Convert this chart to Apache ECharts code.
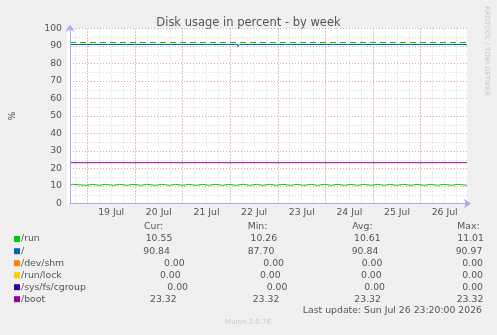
<!DOCTYPE html>
<html><head><meta charset="utf-8">
<script src="https://cdn.jsdelivr.net/npm/echarts@6/dist/echarts.min.js"></script>
<style>html,body{margin:0;padding:0;background:#f0f0f0}#c{width:497px;height:335px}</style>
</head><body><div id="c"></div>
<script>
// ---------------- data ----------------
const titleText = 'Disk usage in percent - by week';
const yAxisName = '%';
const startTime = new Date(2026, 6, 18, 15, 20).getTime();
const endTime = new Date(2026, 6, 26, 23, 20).getTime();
const monthNames = ['Jan','Feb','Mar','Apr','May','Jun','Jul','Aug','Sep','Oct','Nov','Dec'];
const seriesNames = ['/run', '/', '/dev/shm', '/run/lock', '/sys/fs/cgroup', '/boot'];
const seriesColors = ['#00cc00', '#0066b3', '#ff8000', '#ffcc00', '#330099', '#990099'];
// hours after start where /run changes value, and the value held from there
const runHours = [0,1.5,8.2,11.5,14.8,17.8,21.8,24.8,29,31.8,36,38.5,43.2,46,50.2,53.2,56.8,59.8,63.5,66.8,69.8,73.2,77,80,83.5,87.3,90.5,94,97.3,100.5,104,107.3,111,114.5,117.8,121.5,124.8,128.2,131.8,134.5,138.5,141,145,148,151.8,154.8,158.5,161,164.8,167.8,171.8,174.8,178.5,181.8,185.3,188.2,192.3,195.2,200];
const runValues = [10.95,10.40,10.95,10.40,10.95,10.40,10.95,10.40,10.95,10.40,10.95,10.40,10.95,10.40,10.95,10.40,10.95,10.40,10.95,10.40,10.95,10.40,10.95,10.40,10.95,10.40,10.95,10.40,10.95,10.40,10.95,10.40,10.95,10.40,10.95,10.40,10.95,10.40,10.95,10.40,10.95,10.40,10.95,10.40,10.95,10.40,10.95,10.40,10.95,10.40,10.95,10.40,10.95,10.40,10.95,10.40,10.95,10.40,10.55];
const rootHours = [0,12.5,13.5,36.4,37.4,60.4,61.4,84.5,85.5,108.7,109.7,132.7,133.7,156.7,157.7,180.7,181.7,200];
const rootValues = [90.84,89.9,90.84,89.9,90.84,89.9,90.84,89.6,90.84,89.9,90.84,89.9,90.84,89.9,90.84,89.9,90.84,90.84];
const flatHours = [0, 200];
const devShmValues = [0, 0];
const runLockValues = [0, 0];
const cgroupValues = [0, 0];
const bootValues = [23.32, 23.32];
const warningLevel = 92;
const yTicks = [0,10,20,30,40,50,60,70,80,90,100];
const legendHeader = ['Cur:', 'Min:', 'Avg:', 'Max:'];
const legendCur = ['10.55','90.84','0.00','0.00','0.00','23.32'];
const legendMin = ['10.26','87.70','0.00','0.00','0.00','23.32'];
const legendAvg = ['10.61','90.84','0.00','0.00','0.00','23.32'];
const legendMax = ['11.01','90.97','0.00','0.00','0.00','23.32'];
const lastUpdate = 'Last update: Sun Jul 26 23:20:00 2026';
const footerText = 'Munin 2.0.76';
const watermark = 'RRDTOOL / TOBI OETIKER';

// ---------------- layout ----------------
const FONT = 'DejaVu Sans';
const TXT = '#555555';
const AXIS = '#aaaaee';
const MGRID = 'rgba(225,120,120,0.7)';
const GRID = 'rgba(185,185,185,0.6)';
const rowY = [239, 251.2, 263.2, 275.2, 287.2, 299.2];
const colX = [
  [145.7,143.3,164,160,167.3,150],
  [250.5,247.7,263.3,260,266.7,252.7],
  [354,351.7,361.7,361,364.3,354.3],
  [457.3,455.7,462.3,462.3,462.3,456.7]
];
const headerX = [144, 247.7, 352.3, 457.3];

const H = 3600 * 1000;
const toPts = (hours, vals) => hours.map((h, i) => [startTime + h * H, vals[i]]);
const seriesData = [
  toPts(runHours, runValues),
  toPts(rootHours, rootValues),
  toPts(flatHours, devShmValues),
  toPts(flatHours, runLockValues),
  toPts(flatHours, cgroupValues),
  toPts(flatHours, bootValues)
];

const series = seriesData.map((d, i) => ({
  name: seriesNames[i], type: 'line', data: d, step: 'end', showSymbol: false,
  xAxisIndex: 0, yAxisIndex: 0, animation: false, silent: true,
  lineStyle: {color: seriesColors[i], width: 1}, z: 2 + i * 0.01
}));
series.push({
  name: 'warning', type: 'line', data: [[startTime, warningLevel], [endTime, warningLevel]],
  showSymbol: false, animation: false, silent: true,
  lineStyle: {color: seriesColors[0], width: 1, type: [6, 4]}, z: 3
});

const graphic = [];
graphic.push({type: 'rect', z: -10, silent: true, shape: {x: 67, y: 28, width: 400, height: 175.5}, style: {fill: '#ffffff'}});
legendHeader.forEach((t, c) => graphic.push({type: 'text', x: headerX[c], y: 226.7,
  style: {text: t, font: '9.3px "' + FONT + '"', fill: TXT, verticalAlign: 'middle'}}));
const cols = [legendCur, legendMin, legendAvg, legendMax];
seriesNames.forEach((n, r) => {
  graphic.push({type: 'rect', shape: {x: 14, y: rowY[r] - 3, width: 6, height: 6}, style: {fill: seriesColors[r]}});
  graphic.push({type: 'text', x: 21, y: rowY[r], style: {text: n, font: '9.3px "' + FONT + '"', fill: TXT, verticalAlign: 'middle'}});
  cols.forEach((arr, c) => graphic.push({type: 'text', x: colX[c][r], y: rowY[r],
    style: {text: arr[r], font: '9.3px "' + FONT + '"', fill: TXT, verticalAlign: 'middle'}}));
});
graphic.push({type: 'text', x: 482, y: 310.5, style: {text: lastUpdate, font: '9.3px "' + FONT + '"', fill: TXT, align: 'right', verticalAlign: 'middle'}});
graphic.push({type: 'text', x: 248, y: 322, style: {text: footerText, font: '7px "' + FONT + '"', fill: '#c8c8c8', align: 'center', verticalAlign: 'middle'}});
graphic.push({type: 'text', x: 487, y: 51, rotation: -Math.PI / 2, style: {text: watermark, font: '7px "' + FONT + '"', fill: '#c8c8c8', align: 'center', verticalAlign: 'middle'}});

const chart = echarts.init(document.getElementById('c'), null, {renderer: 'canvas'});
chart.setOption({
  backgroundColor: '#f0f0f0',
  animation: false,
  title: {text: titleText, left: 'center', top: 12,
    textStyle: {fontFamily: FONT, fontSize: 11.5, fontWeight: 'normal', color: TXT}},
  grid: {left: 67, top: 28.5, width: 400, height: 175, containLabel: false},
  xAxis: [
    { // major (midnight) grid + day labels
      type: 'time', position: 'bottom', min: startTime, max: endTime, gridIndex: 0, z: 1,
      minInterval: 24 * H, maxInterval: 24 * H,
      axisLine: {show: false}, axisTick: {show: false},
      splitLine: {show: true, showMinLine: false, showMaxLine: false, lineStyle: {color: MGRID, type: [1, 2], width: 1}},
      axisLabel: {
        color: TXT, fontFamily: FONT, fontSize: 9.3, margin: 5, padding: [0, 0, 0, 48],
        formatter: v => { const d = new Date(v); return (d.getHours() === 0 && d.getMinutes() === 0) ? d.getDate() + ' ' + monthNames[d.getMonth()] : ''; }
      }
    },
    { // minor 6h grid
      type: 'time', position: 'bottom', min: startTime, max: endTime, gridIndex: 0, z: 0,
      minInterval: 7 * H, maxInterval: 7 * H,
      axisLine: {show: false}, axisTick: {show: false}, axisLabel: {show: false},
      splitLine: {show: true, showMinLine: false, showMaxLine: false, lineStyle: {color: GRID, type: [1, 2], width: 1}}
    },
    { // axis line with arrow
      type: 'time', position: 'bottom', min: startTime, max: endTime, gridIndex: 0, z: 10,
      axisLine: {show: true, onZero: false, lineStyle: {color: AXIS, width: 1}, symbol: ['none', 'arrow'], symbolSize: [7, 7], symbolOffset: [0, 4]},
      axisTick: {show: false}, axisLabel: {show: false}, splitLine: {show: false}
    }
  ],
  yAxis: [{
    type: 'value', min: yTicks[0], max: yTicks[yTicks.length - 1], interval: 10, z: 10,
    name: yAxisName, nameLocation: 'middle', nameGap: 53, nameRotate: 90,
    nameTextStyle: {color: TXT, fontFamily: FONT, fontSize: 9.3},
    axisLine: {show: true, onZero: false, lineStyle: {color: AXIS, width: 1}, symbol: ['none', 'arrow'], symbolSize: [7, 7], symbolOffset: [0, 4]},
    axisTick: {show: false},
    axisLabel: {color: TXT, fontFamily: FONT, fontSize: 9.3, margin: 8},
    splitLine: {show: true, lineStyle: {color: MGRID, type: [1, 2], width: 1}},
    minorTick: {show: false, splitNumber: 2},
    minorSplitLine: {show: true, lineStyle: {color: GRID, type: [1, 2], width: 1}}
  }],
  series: series,
  graphic: graphic
});
</script></body></html>
